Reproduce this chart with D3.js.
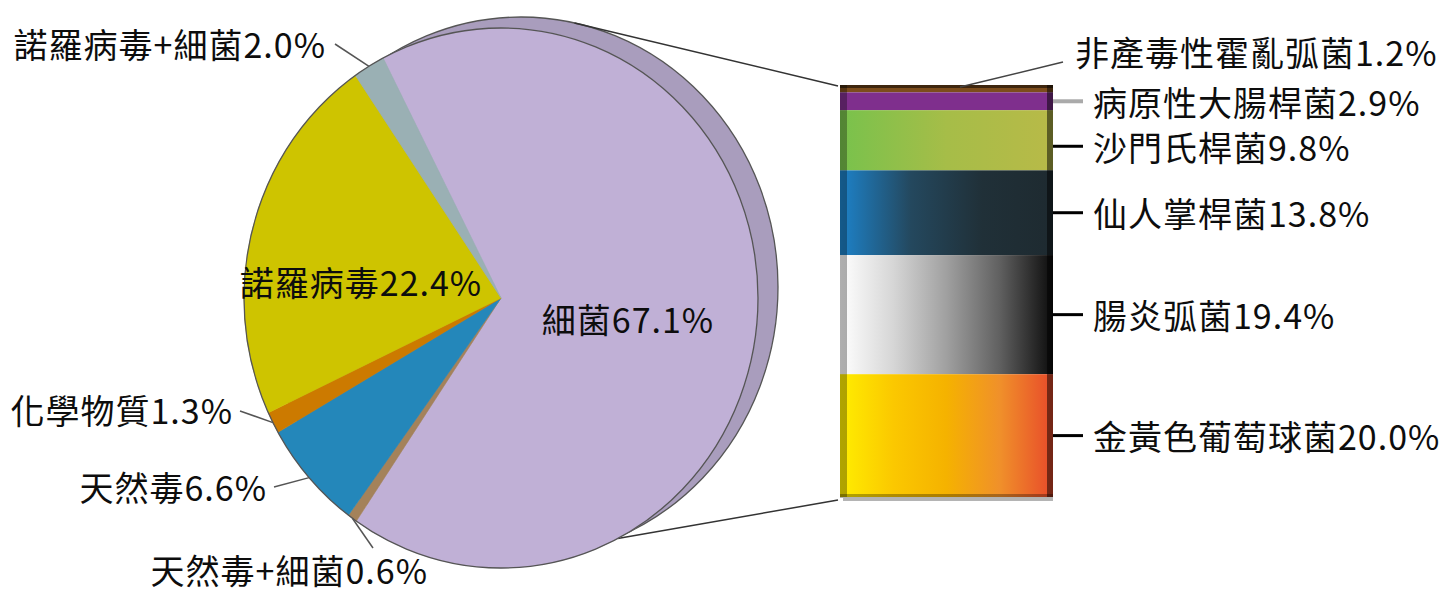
<!DOCTYPE html>
<html>
<head>
<meta charset="utf-8">
<script src="https://cdn.jsdelivr.net/npm/d3@7"></script>
<style>
  body { margin: 0; background: #fff; }
  svg { display: block; }
  text { font-family: "Noto Sans CJK TC", "Noto Sans CJK SC", sans-serif; fill: #0d0d0d; letter-spacing: 1px; }
</style>
</head>
<body>
<div id="chart"></div>
<script>
// pie: causes of food poisoning (%), clockwise from the top
var pieNames = ["細菌", "天然毒+細菌", "天然毒", "化學物質", "諾羅病毒", "諾羅病毒+細菌"];
var pieValues = [67.1, 0.6, 6.6, 1.3, 22.4, 2.0];
var pieColors = ["#c0b0d6", "#a4825a", "#2487ba", "#cc7a00", "#cec400", "#9ab0b4"];

// bar: breakdown of 細菌, top to bottom
var barNames = ["非產毒性霍亂弧菌", "病原性大腸桿菌", "沙門氏桿菌", "仙人掌桿菌", "腸炎弧菌", "金黃色葡萄球菌"];
var barValues = [1.2, 2.9, 9.8, 13.8, 19.4, 20.0];
var barStops = [
  ["#7c4c1c", "#7c4c1c"],
  ["#7f2f8d", "#7f2f8d"],
  ["#78c24c", "#a6bd48", "#b8ba48"],
  ["#1d82c9", "#24485e", "#203038", "#1e2a30"],
  ["#ffffff", "#d6d6d6", "#a0a0a0", "#606060", "#0c0c0c"],
  ["#ffee00", "#fbc800", "#f5b200", "#f0902a", "#e84a2a"]
];

var svgWidth = 1450, svgHeight = 592;
var svg = d3.select("#chart").append("svg")
    .attr("width", svgWidth)
    .attr("height", svgHeight);
var defs = svg.append("defs");

// pie geometry (slightly taller than wide, with a rim up and to the right)
var cx = 501, cy = 298, r = 257, ky = 270 / 257;
var rim = {x: 20, y: -11};
var start = -27.3 * Math.PI / 180;
var fontSize = "34px";

var pie = d3.pie().sort(null).value(d => d)
    .startAngle(start).endAngle(start + 2 * Math.PI);
var arcs = pie(pieValues);
var arc = d3.arc().innerRadius(0).outerRadius(r);
var full = d3.arc().innerRadius(0).outerRadius(r).startAngle(0).endAngle(2 * Math.PI);

function edgePoint(a, k) {
  return [cx + r * k * Math.sin(a), cy - r * k * ky * Math.cos(a)];
}

// rim
svg.append("g")
    .attr("transform", `translate(${cx + rim.x},${cy + rim.y}) scale(1,${ky})`)
    .append("path")
    .attr("d", full())
    .attr("fill", "#a99dbd")
    .attr("stroke", "#555")
    .attr("stroke-width", 1.3);

// connectors from the pie to the bar
var barX = 840, barW = 213, barTop = 85, barBottom = 497;
var topA = 12 * Math.PI / 180, botA = 153 * Math.PI / 180;
var pTop = edgePoint(topA, 1), pBot = edgePoint(botA, 1);
svg.append("line")
    .attr("x1", pTop[0] + rim.x).attr("y1", pTop[1] + rim.y)
    .attr("x2", barX - 2).attr("y2", barTop + 1)
    .attr("stroke", "#333").attr("stroke-width", 1.5);
svg.append("line")
    .attr("x1", pBot[0]).attr("y1", pBot[1])
    .attr("x2", barX - 2).attr("y2", barBottom + 3)
    .attr("stroke", "#333").attr("stroke-width", 1.5);

var pieG = svg.append("g")
    .attr("transform", `translate(${cx},${cy}) scale(1,${ky})`);
pieG.selectAll("path.slice")
    .data(arcs)
    .enter()
    .append("path")
    .attr("class", "slice")
    .attr("d", arc)
    .attr("fill", (d, i) => pieColors[i])
    .attr("stroke", (d, i) => pieColors[i])
    .attr("stroke-width", 0.6);
pieG.append("path")
    .attr("d", full())
    .attr("fill", "none")
    .attr("stroke", "#555")
    .attr("stroke-width", 1.3);

// pie labels
var fmt = d3.format(".1f");
var pieLabelPos = {
  "細菌": {x: 628, y: 318, anchor: "middle"},
  "諾羅病毒": {x: 361, y: 281, anchor: "middle"},
  "諾羅病毒+細菌": {x: 326, y: 43, anchor: "end", lx: 335, ly: 44},
  "化學物質": {x: 233, y: 409, anchor: "end", lx: 240, ly: 411},
  "天然毒": {x: 267, y: 486, anchor: "end", lx: 274, ly: 487},
  "天然毒+細菌": {x: 428, y: 569, anchor: "end", lx: 373, ly: 548}
};

arcs.forEach(function(d, i) {
  var pos = pieLabelPos[pieNames[i]];
  if (pos.lx !== undefined) {
    var mid = (d.startAngle + d.endAngle) / 2;
    var p = edgePoint(mid, 1.0);
    svg.append("line")
      .attr("x1", pos.lx).attr("y1", pos.ly)
      .attr("x2", p[0]).attr("y2", p[1])
      .attr("stroke", "#555").attr("stroke-width", 1.5);
  }
  svg.append("text")
    .attr("x", pos.x).attr("y", pos.y)
    .attr("text-anchor", pos.anchor)
    .attr("dominant-baseline", "central")
    .attr("font-size", fontSize)
    .text(pieNames[i] + fmt(pieValues[i]) + "%");
});

// stacked bar
var yBar = d3.scaleLinear()
    .domain([0, d3.sum(barValues)])
    .range([barTop, barBottom]);
var cum = d3.cumsum(barValues);
var segs = barValues.map((v, i) => ({name: barNames[i], value: v, y0: cum[i] - v, y1: cum[i], i: i}));

segs.forEach(function(s) {
  var g = defs.append("linearGradient")
      .attr("id", "grad" + s.i)
      .attr("x1", 0).attr("x2", 1).attr("y1", 0).attr("y2", 0);
  var stops = barStops[s.i];
  stops.forEach(function(c, k) {
    g.append("stop")
      .attr("offset", k / (stops.length - 1))
      .attr("stop-color", c);
  });
});

var barG = svg.append("g");
barG.selectAll("rect.seg")
    .data(segs)
    .enter()
    .append("rect")
    .attr("class", "seg")
    .attr("x", barX)
    .attr("y", d => yBar(d.y0))
    .attr("width", barW)
    .attr("height", d => yBar(d.y1) - yBar(d.y0))
    .attr("fill", d => `url(#grad${d.i})`);

// 3D edges
barG.append("rect")
    .attr("x", barX).attr("y", barTop)
    .attr("width", 7).attr("height", barBottom - barTop)
    .attr("fill", "#000").attr("opacity", 0.31);
barG.append("rect")
    .attr("x", barX + barW - 6).attr("y", barTop)
    .attr("width", 6).attr("height", barBottom - barTop)
    .attr("fill", "#000").attr("opacity", 0.5);
barG.append("rect")
    .attr("x", barX).attr("y", barTop)
    .attr("width", barW).attr("height", 3)
    .attr("fill", "#000").attr("opacity", 0.5);
barG.append("rect")
    .attr("x", barX).attr("y", barBottom - 3)
    .attr("width", barW).attr("height", 4)
    .attr("fill", "#000").attr("opacity", 0.3);
barG.append("rect")
    .attr("x", barX + 3).attr("y", barBottom + 1)
    .attr("width", barW - 3).attr("height", 3)
    .attr("fill", "#b4b4b4");

// bar labels, pushed apart where they would collide
var labelX = 1093, minGap = 45;
var prevY = -Infinity;
segs.forEach(function(s) {
  var txt = s.name + fmt(s.value) + "%";
  if (s.i === 0) {
    svg.append("line")
      .attr("x1", barX + 120).attr("y1", barTop + 2)
      .attr("x2", 1063).attr("y2", 62)
      .attr("stroke", "#444").attr("stroke-width", 1.5);
    svg.append("text")
      .attr("x", 1075).attr("y", 51)
      .attr("dominant-baseline", "central")
      .attr("font-size", fontSize)
      .text(txt);
    return;
  }
  var ym = Math.max((yBar(s.y0) + yBar(s.y1)) / 2, prevY + minGap);
  prevY = ym;
  svg.append("line")
    .attr("x1", barX + barW).attr("y1", ym)
    .attr("x2", labelX - 10).attr("y2", ym)
    .attr("stroke", s.i === 1 ? "#aaa" : "#000")
    .attr("stroke-width", s.i === 1 ? 4 : 3);
  svg.append("text")
    .attr("x", labelX).attr("y", ym)
    .attr("dominant-baseline", "central")
    .attr("font-size", fontSize)
    .text(txt);
});
</script>
</body>
</html>
